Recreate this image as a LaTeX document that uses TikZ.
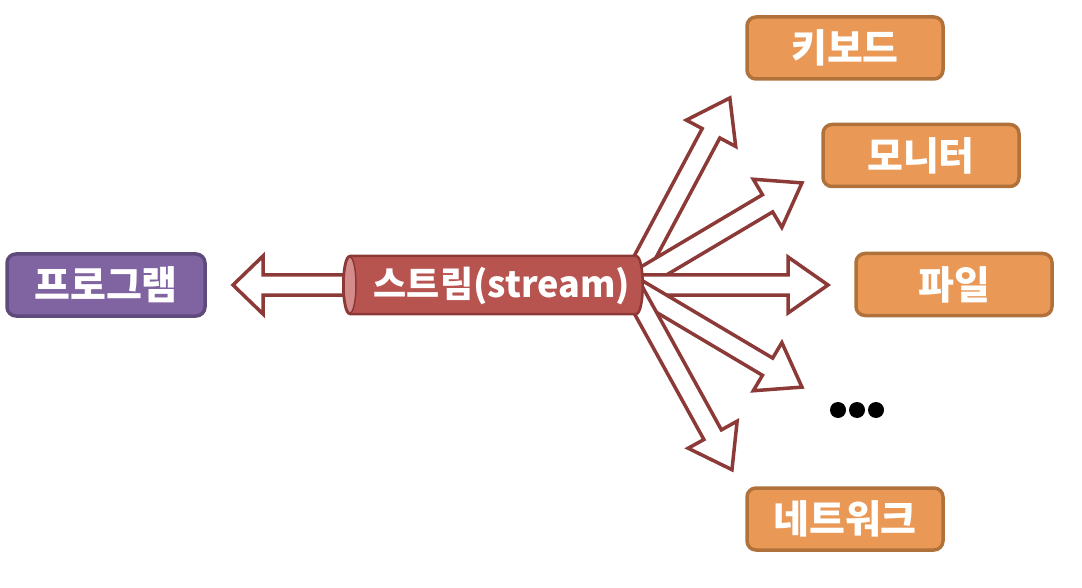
\documentclass[tikz,border=0pt]{standalone}
\usepackage{fontspec}
\newfontfamily\kr{Noto Sans CJK KR}
\usetikzlibrary{calc}
\definecolor{purfill}{RGB}{128,100,162}
\definecolor{purline}{RGB}{95,74,124}
\definecolor{orfill}{RGB}{233,152,86}
\definecolor{orline}{RGB}{176,113,58}
\definecolor{redfill}{RGB}{183,84,80}
\definecolor{redline}{RGB}{140,56,53}
\definecolor{capfill}{RGB}{212,140,138}
\definecolor{arrline}{RGB}{140,58,56}
\tikzset{
  lbl/.style={text=white, font=\kr\bfseries\fontsize{39}{42}\selectfont},
  purbox/.style={lbl, draw=purline, fill=purfill, line width=3.5pt, rounded corners=9pt,
    minimum width=198pt, minimum height=62pt, inner sep=0pt},
  orbox/.style={lbl, draw=orline, fill=orfill, line width=3.5pt, rounded corners=9pt,
    minimum width=196pt, minimum height=62pt, inner sep=0pt},
  fatarr/.style={draw=arrline, fill=white, line width=3.5pt, line join=miter},
}
\newcommand\fatarrow[5]{%
  \draw[fatarr, shift={(#1)}, rotate=#2] (0,-10) -- ({#3-#4},-10) -- ({#3-#4},-#5)
    -- (#3,0) -- ({#3-#4},#5) -- ({#3-#4},10) -- (0,10) -- cycle;}
\begin{document}
\begin{tikzpicture}[x=1pt,y=-1pt]
\useasboundingbox (0,0) rectangle (1082,588);
% nodes
\node[purbox] (prog) at (106,285) {프로그램};
\node[orbox] (kb) at (845,48) {키보드};
\node[orbox] (mon) at (921,155.5) {모니터};
\node[orbox] (file) at (954,284.5) {파일};
\node[orbox] (net) at (845,519) {네트워크};
\coordinate (sr) at (630,285);
\coordinate (sl) at (352,285);
% arrows (behind the stream)
\fatarrow{sl}{180}{119}{30}{29}
\fatarrow{sr}{61.9}{212}{40}{28}
\fatarrow{sr}{30.7}{200}{40}{28}
\fatarrow{sr}{0}{198}{40}{28}
\fatarrow{sr}{-30.7}{200}{40}{28}
\fatarrow{sr}{-61.1}{211}{40}{28}
% stream cylinder
\draw[draw=redline, fill=redfill, line width=2.5pt]
  (350,256) -- (636,256) .. controls (645,256) and (645,314) .. (636,314)
  -- (350,314) .. controls (341,314) and (341,256) .. (350,256) -- cycle;
\draw[draw=redline, fill=capfill, line width=1.5pt] (350,285) ellipse[x radius=6, y radius=28];
\node[lbl, font=\kr\bfseries\fontsize{36}{40}\selectfont, inner sep=0pt] (stream) at (502,286) {스트림(stream)};
% ellipsis dots
\foreach \xx in {838,857,876} \fill[black] (\xx,410) circle[radius=8];
\end{tikzpicture}
\end{document}
